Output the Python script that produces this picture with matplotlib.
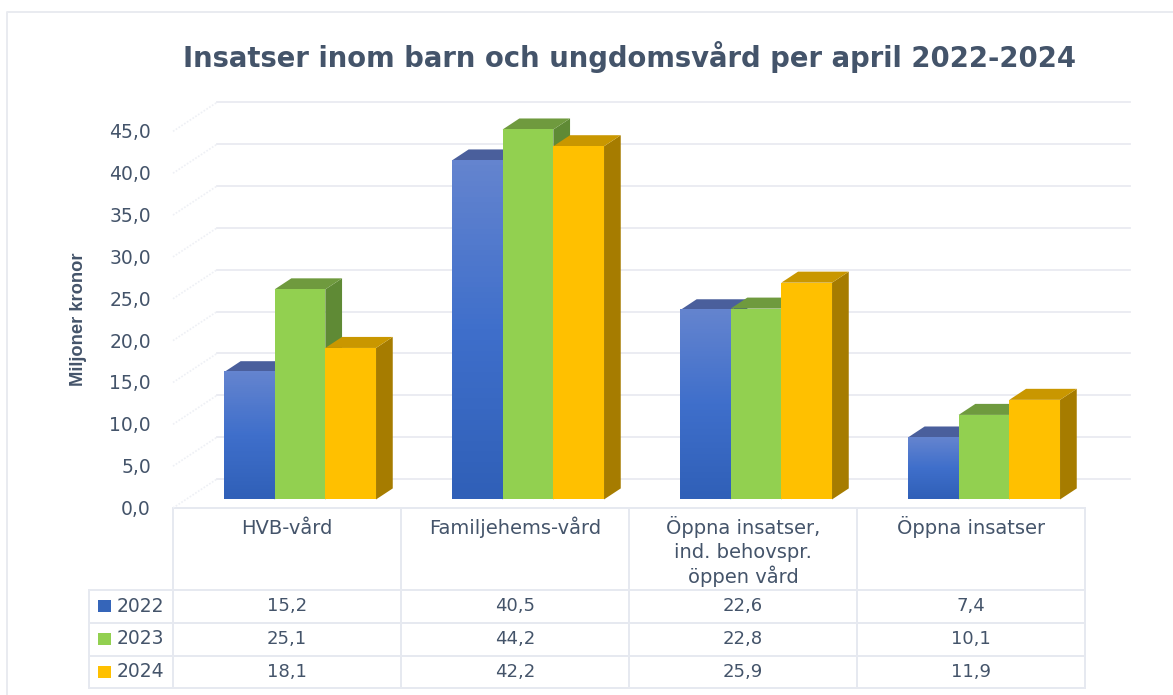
import matplotlib
matplotlib.use("Agg")
import matplotlib.pyplot as plt
import numpy as np
from matplotlib.patches import Polygon, Rectangle

categories = ["HVB-vård", "Familjehems-vård", "Öppna insatser,\nind. behovspr.\nöppen vård", "Öppna insatser"]
years = ["2022", "2023", "2024"]
values_2022 = [15.2, 40.5, 22.6, 7.4]
values_2023 = [25.1, 44.2, 22.8, 10.1]
values_2024 = [18.1, 42.2, 25.9, 11.9]
y_ticks = [0, 5, 10, 15, 20, 25, 30, 35, 40, 45]

text_col = "#44546a"
line_col = "#e9ebf1"
face_cols = ["#3f6fcb", "#92d050", "#ffc000"]
top_cols = ["#4a5f9c", "#6f9a3e", "#c99700"]
side_cols = ["#39538f", "#5f8a35", "#a67c00"]

W, H = 1173, 695
px_x = 228.0      # pixels per category
px_y = 8.37       # pixels per million
left, right = 173, 1085
base, top = 508, 508 - 45 * px_y

fig = plt.figure(figsize=(W / 100, H / 100), dpi=100)
# overlay in pixels for the frame and the table
pg = fig.add_axes([0, 0, 1, 1])
pg.set_xlim(0, W)
pg.set_ylim(H, 0)
pg.axis("off")

ax = fig.add_axes([left / W, 1 - base / H, (right - left) / W, (base - top) / H])
ax.set_xlim(-0.5, 3.5)
ax.set_ylim(0, 45)
ax.axis("off")
ax.patch.set_alpha(0)

DX = 44.0 / px_x
DY = 29.0 / px_y
D1, D2 = 0.295, 0.675   # depth of the bars, front and back


def proj(c, v, d):
    return (c + d * DX, v + d * DY)


# walls
for t in y_ticks:
    a = proj(-0.5, t, 0)
    b = proj(-0.5, t, 1)
    c = (3.5 + 45 / px_x, b[1])
    ax.plot([a[0], b[0]], [a[1], b[1]], color="#eef0f5", lw=1.2, ls=(0, (1, 1)), clip_on=False, zorder=1)
    ax.plot([b[0], c[0]], [b[1], c[1]], color=line_col, lw=1.3, clip_on=False, zorder=1)
    ax.text(-0.5 - 22 / px_x, t - 1.5 / px_y, "{:.1f}".format(t).replace(".", ","), ha="right", va="center",
            fontsize=13.5, color=text_col, clip_on=False)

# bars
w = 50.7 / px_x
offs = [-w, 0, w]
grad = np.linspace(1, 0, 64).reshape(-1, 1)
blue_map = matplotlib.colors.LinearSegmentedColormap.from_list(
    "b", ["#3060b8", "#3f6fcb", "#6484cf"])
for i in range(4):
    for j, vals in enumerate([values_2022, values_2023, values_2024]):
        v = vals[i]
        x0 = i + offs[j] - w / 2
        x1 = x0 + w
        ax.add_patch(Polygon([proj(x1, 0, D1), proj(x1, 0, D2), proj(x1, v, D2), proj(x1, v, D1)],
                             fc=side_cols[j], ec="none", clip_on=False, zorder=3 + j))
        ax.add_patch(Polygon([proj(x0, v, D1), proj(x0, v, D2), proj(x1, v, D2), proj(x1, v, D1)],
                             fc=top_cols[j], ec="none", clip_on=False, zorder=3 + j))
        fx0, fb = proj(x0, 0, D1)
        fx1, ft = proj(x1, v, D1)
        if j == 0:
            ax.imshow(grad, cmap=blue_map, extent=[fx0, fx1, fb, ft], aspect="auto",
                      origin="upper", zorder=3 + j, clip_on=False)
        else:
            ax.bar(fx0, ft - fb, w, bottom=fb, align="edge", color=face_cols[j], clip_on=False, zorder=3 + j)
ax.set_xlim(-0.5, 3.5)
ax.set_ylim(0, 45)

# table
table_left = 89
cols = [left + k * px_x for k in range(5)]
rows = [589.5, 622.5, 655.5, 688]
tb = dict(color="#e6e9f0", lw=1.4, zorder=2)
pg.plot([left, right], [base, base], **tb)
for r in rows:
    pg.plot([table_left, right], [r, r], **tb)
pg.plot([table_left, table_left], [rows[0], rows[-1]], **tb)
for c in cols:
    pg.plot([c, c], [base, rows[-1]], **tb)

for k, name in enumerate(categories):
    for n, part in enumerate(name.split("\n")):
        pg.text((cols[k] + cols[k + 1]) / 2, 534 + n * 24.5, part, ha="center", va="baseline", fontsize=14,
                color=text_col)
for j, (yr, vals) in enumerate(zip(years, [values_2022, values_2023, values_2024])):
    yc = (rows[j] + rows[j + 1]) / 2
    pg.add_patch(Rectangle((98, yc - 6), 13, 12, fc=["#3565b9", "#92d050", "#ffc000"][j], ec="none"))
    pg.text(117, yc, yr, ha="left", va="center", fontsize=13.5, color=text_col)
    for k, v in enumerate(vals):
        pg.text((cols[k] + cols[k + 1]) / 2, yc, "{:.1f}".format(v).replace(".", ","), ha="center", va="center",
                fontsize=13, color=text_col)

pg.text(629.5, 57, "Insatser inom barn och ungdomsvård per april 2022-2024", ha="center", va="center",
        fontsize=19.85, fontweight="bold", color=text_col)
pg.text(78.5, 319, "Miljoner kronor", rotation=90, ha="center", va="center", fontsize=13.2, fontweight="bold",
        color=text_col, family=["Liberation Sans Narrow", "Liberation Sans"])

# frame of the chart
pg.plot([6.5, 6.5, W], [H, 12, 12], color="#e9ebf0", lw=1.4)

fig.savefig("out.png", dpi=100)
plt.close()
